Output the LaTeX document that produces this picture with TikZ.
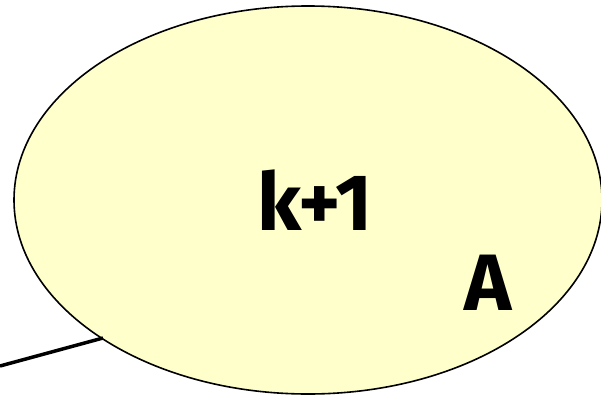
\documentclass[tikz,border=0pt]{standalone}
\usepackage{fontspec}
\setmainfont{Fira Sans}
\definecolor{setfill}{HTML}{FFFFCC}
\tikzset{
  setline/.style={draw=black, line width=1.6pt, fill=setfill},
  biglabel/.style={font=\fontsize{80}{80}\selectfont\bfseries, inner sep=0pt},
  link/.style={line width=3.5pt}
}
\begin{document}
\begin{tikzpicture}[x=1pt,y=1pt]
\useasboundingbox (0,0) rectangle (601,400);
\draw[setline] (308,200) ellipse [x radius=294, y radius=194];
\coordinate (touch) at (103,62);
\node[biglabel] (k) at (315,200) {k+1};
\node[biglabel] (a) at (488,117) {A};
\coordinate (start) at (0,34);
\draw[link] (start) -- (touch);
\end{tikzpicture}
\end{document}
